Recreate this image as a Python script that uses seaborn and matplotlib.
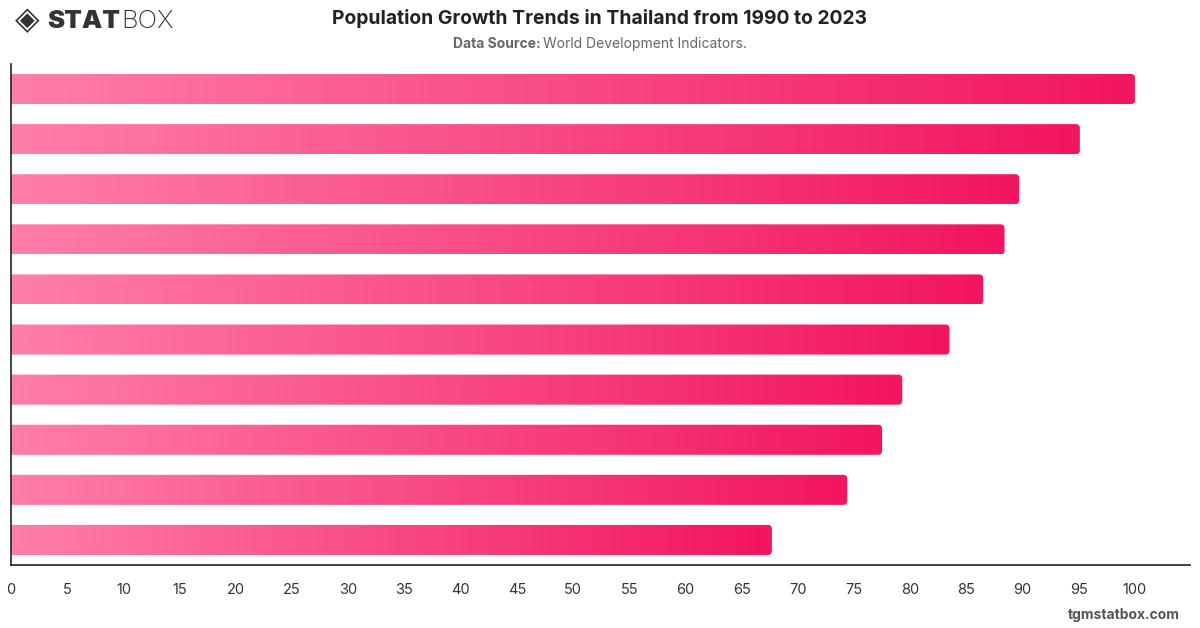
import numpy as np
import pandas as pd
import seaborn as sns
import matplotlib.pyplot as plt
from matplotlib.colors import LinearSegmentedColormap
from matplotlib.patches import FancyBboxPatch

# Chart data (bars top to bottom, category labels are hidden in the source)
categories = ['A', 'B', 'C', 'D', 'E', 'F', 'G', 'H', 'I', 'J']
values = [100.0, 95.1, 89.7, 88.4, 86.5, 83.5, 79.3, 77.5, 74.4, 67.7]
x_ticks = list(range(0, 101, 5))

title = 'Population Growth Trends in Thailand from 1990 to 2023'
source_label = 'Data Source:'
source_text = 'World Development Indicators.'

df = pd.DataFrame({'category': categories, 'value': values})

sns.set_theme(style='white')
plt.rcParams['font.family'] = ['Inter', 'DejaVu Sans']

fig = plt.figure(figsize=(12, 6.28), dpi=100)
ax = fig.add_axes([11 / 1200, 1 - 565 / 628, (1190 - 11) / 1200, (565 - 64) / 628])

sns.barplot(data=df, x='value', y='category', orient='h', width=0.6,
            color='#ff7ba5', ax=ax)

# gradient fill for each bar, right end rounded
cmap = LinearSegmentedColormap.from_list('pinks', ['#ff7eaa', '#f2155f'])
grad = np.linspace(0, 1, 256).reshape(1, -1)
for p in ax.patches:
    x0, y0 = p.get_x(), p.get_y()
    w, h = p.get_width(), p.get_height()
    p.set_visible(False)
    im = ax.imshow(grad, cmap=cmap, aspect='auto', extent=[x0, x0 + w, y0 + h, y0],
                   zorder=2)
    clip = FancyBboxPatch((x0 - 2, y0), w + 2, h,
                          boxstyle='round,pad=0,rounding_size=0.36',
                          mutation_aspect=0.224, transform=ax.transData,
                          facecolor='none', edgecolor='none')
    ax.add_patch(clip)
    im.set_clip_path(clip)

ax.set_xlim(0, 104.9)
ax.set_ylim(9.5, -0.5)
ax.set_xticks(x_ticks)
ax.set_xticklabels([str(t) for t in x_ticks])
ax.set_yticks([])
ax.set_xlabel('')
ax.set_ylabel('')
ax.tick_params(axis='x', length=0, pad=13, labelsize=10.5, labelcolor='#333333')
for side in ['top', 'right']:
    ax.spines[side].set_visible(False)
for side in ['left', 'bottom']:
    ax.spines[side].set_color('#222222')
    ax.spines[side].set_linewidth(1.2)

r = fig.canvas.get_renderer()

# header
fig.text(0.5, 1 - 18 / 628, title, ha='center', va='center',
         fontsize=13.9, fontweight='bold', color='#222222')
t_lab = fig.text(0.5, 1 - 44 / 628, source_label + ' ', ha='right', va='center',
                 fontsize=10, fontweight='bold', color='#666666')
t_src = fig.text(0.5, 1 - 44 / 628, source_text, ha='left', va='center',
                 fontsize=10, color='#666666')
wl = t_lab.get_window_extent(r).width
wr = t_src.get_window_extent(r).width
cx = 600 + (wl - wr) / 2
t_lab.set_x(cx / 1200)
t_src.set_x(cx / 1200)

# logo
fig.text(15 / 1200, 1 - 21 / 628, '\u25c8', ha='left', va='center',
         fontsize=23, fontweight='bold', color='#333333', family=['DejaVu Sans'])
t_stat = fig.text(47 / 1200, 1 - 21 / 628, 'STAT', ha='left', va='center',
                  fontsize=18.5, fontweight='black', color='#333333')
ws = t_stat.get_window_extent(r).width
fig.text((47 + ws + 1) / 1200, 1 - 21 / 628, 'BOX', ha='left', va='center',
         fontsize=18.5, fontweight='light', color='#333333')

# footer
fig.text(1180 / 1200, 1 - 615 / 628, 'tgmstatbox.com', ha='right', va='center',
         fontsize=10, fontweight='bold', color='#555555')

fig.savefig('out.png', dpi=100, facecolor='white')
